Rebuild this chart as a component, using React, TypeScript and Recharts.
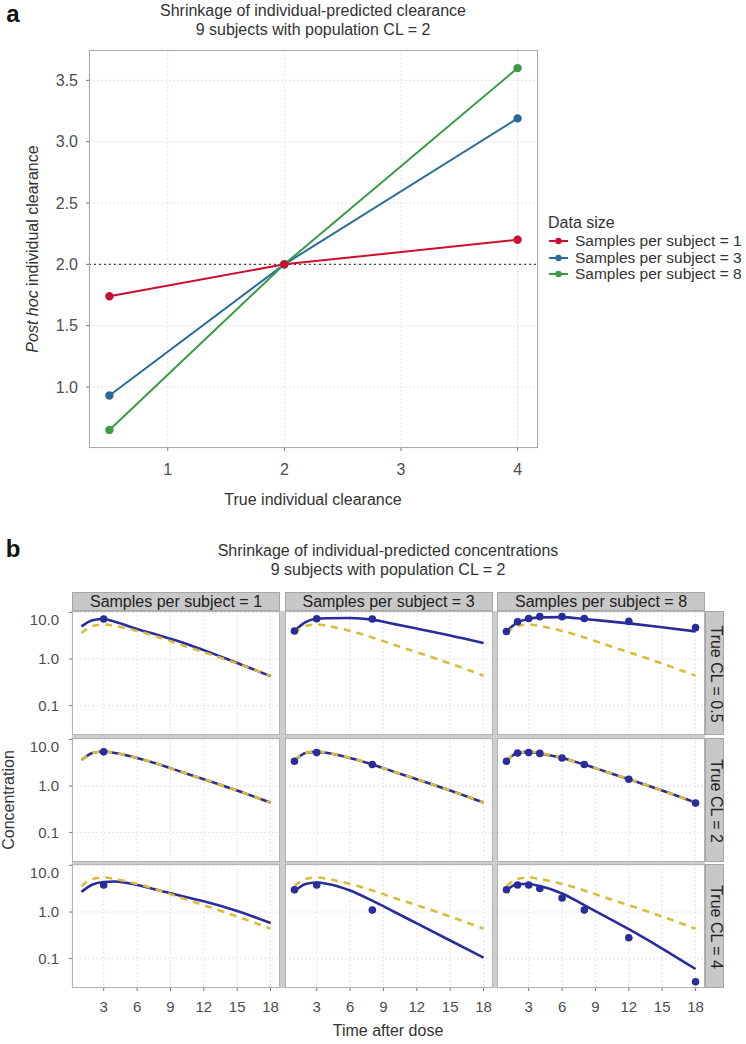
import React from 'react';
import {
  ComposedChart,
  Line,
  Scatter,
  XAxis,
  YAxis,
  CartesianGrid,
  ReferenceLine,
} from 'recharts';

const FONT = '"Liberation Sans", Arial, Helvetica, sans-serif';

// ---- panel a: post hoc clearance vs true clearance
const trueClearance = [0.5, 2, 4];
const postHocN1 = [1.74, 2.0, 2.2];
const postHocN3 = [0.93, 2.0, 3.19];
const postHocN8 = [0.65, 2.0, 3.6];
const clXTicks = [1, 2, 3, 4];
const clYTicks = [1.0, 1.5, 2.0, 2.5, 3.0, 3.5];
const dataSizeLabels = [
  'Samples per subject = 1',
  'Samples per subject = 3',
  'Samples per subject = 8',
];
const dataSizeColors = ['#c9102f', '#2a6b98', '#3a9a47'];

// ---- panel b: concentration profiles
const curveTimes = [1, 2, 3, 4, 6, 8, 10, 12, 15, 18];
const popPred = [3.6, 5.1, 5.5, 5.1, 4.0, 2.9, 2.0, 1.4, 0.8, 0.44];

const ipredCl05N1 = [5.0, 6.8, 7.2, 6.3, 4.4, 3.2, 2.3, 1.55, 0.82, 0.43];
const ipredCl05N3 = [4.0, 6.2, 7.3, 7.5, 7.6, 7.0, 5.6, 4.5, 3.2, 2.2];
const ipredCl05N8 = [3.9, 6.1, 7.3, 7.8, 7.9, 7.2, 6.5, 5.8, 4.8, 3.9];
const ipredCl2N1 = [3.6, 5.1, 5.5, 5.1, 4.0, 2.9, 2.0, 1.4, 0.8, 0.44];
const ipredCl2N3 = [3.5, 5.1, 5.4, 5.1, 4.0, 2.9, 2.0, 1.4, 0.8, 0.44];
const ipredCl2N8 = [3.5, 5.1, 5.4, 5.0, 4.0, 2.9, 2.0, 1.4, 0.8, 0.44];
const ipredCl4N1 = [2.7, 3.9, 4.4, 4.5, 3.8, 2.9, 2.2, 1.7, 1.05, 0.58];
const ipredCl4N3 = [2.8, 4.0, 4.3, 4.0, 2.9, 1.75, 1.0, 0.57, 0.245, 0.105];
const ipredCl4N8 = [2.9, 4.0, 4.0, 3.6, 2.5, 1.4, 0.78, 0.43, 0.165, 0.06];

const sampleTimesN1 = [3];
const sampleTimesN3 = [1, 3, 8];
const sampleTimesN8 = [1, 2, 3, 4, 6, 8, 12, 18];

const obsCl05N1 = [7.2];
const obsCl05N3 = [4.0, 7.3, 7.2];
const obsCl05N8 = [3.9, 6.3, 7.4, 8.1, 8.1, 7.4, 6.4, 4.7];
const obsCl2N1 = [5.4];
const obsCl2N3 = [3.4, 5.2, 2.9];
const obsCl2N8 = [3.4, 5.1, 5.2, 5.0, 4.0, 2.9, 1.4, 0.43];
const obsCl4N1 = [3.8];
const obsCl4N3 = [3.0, 3.8, 1.1];
const obsCl4N8 = [3.0, 3.8, 3.8, 3.2, 2.0, 1.1, 0.28, 0.032];

const timeTicks = [3, 6, 9, 12, 15, 18];
const concTicks = [0.1, 1, 10];
const colStrips = ['Samples per subject = 1', 'Samples per subject = 3', 'Samples per subject = 8'];
const rowStrips = ['True CL = 0.5', 'True CL = 2', 'True CL = 4'];

const facets = [
  { row: 0, col: 0, ipred: ipredCl05N1, times: sampleTimesN1, obs: obsCl05N1 },
  { row: 0, col: 1, ipred: ipredCl05N3, times: sampleTimesN3, obs: obsCl05N3 },
  { row: 0, col: 2, ipred: ipredCl05N8, times: sampleTimesN8, obs: obsCl05N8 },
  { row: 1, col: 0, ipred: ipredCl2N1, times: sampleTimesN1, obs: obsCl2N1 },
  { row: 1, col: 1, ipred: ipredCl2N3, times: sampleTimesN3, obs: obsCl2N3 },
  { row: 1, col: 2, ipred: ipredCl2N8, times: sampleTimesN8, obs: obsCl2N8 },
  { row: 2, col: 0, ipred: ipredCl4N1, times: sampleTimesN1, obs: obsCl4N1 },
  { row: 2, col: 1, ipred: ipredCl4N3, times: sampleTimesN3, obs: obsCl4N3 },
  { row: 2, col: 2, ipred: ipredCl4N8, times: sampleTimesN8, obs: obsCl4N8 },
];

const COL_LEFT = [72, 284.5, 497];
const COL_W = 208;
const ROW_TOP = [611, 737.5, 864];
const ROW_H = 124;
const NAVY = '#2a2c9c';
const GOLD = '#d8bc3a';

const tickStyle = (size: number) => ({ fontSize: size, fill: '#4d4d4d', fontFamily: FONT });

const Txt = ({ x, y, size = 16, rotate = 0, color = '#333', weight = 400, children }: any) => (
  <div
    style={{
      position: 'absolute',
      left: x,
      top: y,
      transform: `translate(-50%, -50%) rotate(${rotate}deg)`,
      whiteSpace: 'nowrap',
      fontSize: size,
      lineHeight: 1,
      color,
      fontWeight: weight,
      fontFamily: FONT,
    }}
  >
    {children}
  </div>
);

const Dot = (props: any) => <circle cx={props.cx} cy={props.cy} r={3.8} fill={NAVY} />;

const Facet = ({ f }: any) => {
  const showY = f.col === 0;
  const showX = f.row === 2;
  const yW = 72;
  const xH = 36;
  const left = COL_LEFT[f.col] - (showY ? yW : 0);
  const width = COL_W + (showY ? yW : 0);
  const height = ROW_H + (showX ? xH : 0);
  const ipredRows = curveTimes.map((t, i) => ({ t, c: f.ipred[i] }));
  const popRows = curveTimes.map((t, i) => ({ t, c: popPred[i] }));
  const obsRows = f.times.map((t: number, i: number) => ({ t, c: f.obs[i] }));
  return (
    <div style={{ position: 'absolute', left, top: ROW_TOP[f.row] }}>
      <ComposedChart width={width} height={height} margin={{ top: 0, right: 0, bottom: 0, left: 0 }}>
        <CartesianGrid fill='#fff' fillOpacity={1} stroke='#e2e2ea' strokeDasharray='2 2' />
        <XAxis
          type='number'
          dataKey='t'
          domain={[0.15, 18.85]}
          ticks={timeTicks}
          hide={!showX}
          height={xH}
          tickSize={3}
          tickMargin={10}
          axisLine={false}
          tickLine={{ stroke: '#777' }}
          tick={tickStyle(15)}
          allowDataOverflow
        />
        <YAxis
          type='number'
          dataKey='c'
          scale='log'
          domain={[0.0235, 10.7]}
          ticks={concTicks}
          hide={!showY}
          width={yW}
          tickSize={3}
          tickMargin={10}
          axisLine={false}
          tickLine={{ stroke: '#777' }}
          tick={tickStyle(15)}
          tickFormatter={(v: number) => v.toFixed(1)}
          allowDataOverflow
        />
        <Line
          data={ipredRows}
          dataKey='c'
          type='monotone'
          stroke={NAVY}
          strokeWidth={2.6}
          dot={false}
          isAnimationActive={false}
        />
        <Line
          data={popRows}
          dataKey='c'
          type='monotone'
          stroke={GOLD}
          strokeWidth={2.6}
          strokeDasharray='7 6'
          dot={false}
          isAnimationActive={false}
        />
        <Scatter data={obsRows} dataKey='c' fill={NAVY} shape={Dot} isAnimationActive={false} />
      </ComposedChart>
    </div>
  );
};

const App = () => {
  const clearanceRows = trueClearance.map((x, i) => ({
    x,
    n1: postHocN1[i],
    n3: postHocN3[i],
    n8: postHocN8[i],
  }));
  const keys = ['n1', 'n3', 'n8'];
  const drawOrder = [1, 2, 0];

  return (
    <div
      style={{
        position: 'absolute',
        left: 0,
        top: 0,
        width: 746,
        height: 1044,
        background: '#fff',
        overflow: 'hidden',
        fontFamily: FONT,
      }}
    >
      {/* panel a */}
      <Txt x={13} y={14} size={24} weight={700} color='#111'>a</Txt>
      <Txt x={313} y={11}>Shrinkage of individual-predicted clearance</Txt>
      <Txt x={313} y={30}>9 subjects with population CL = 2</Txt>

      <div style={{ position: 'absolute', left: 0, top: 0 }}>
        <ComposedChart
          width={746}
          height={540}
          data={clearanceRows}
          margin={{ top: 50, right: 208, bottom: 52, left: 0 }}
        >
          <CartesianGrid stroke='#e2e2ea' strokeDasharray='2 2' />
          <XAxis
            type='number'
            dataKey='x'
            domain={[0.325, 4.175]}
            ticks={clXTicks}
            height={40}
            tickSize={3}
            tickMargin={13}
            axisLine={false}
            tickLine={{ stroke: '#777' }}
            tick={tickStyle(16)}
            allowDataOverflow
          />
          <YAxis
            type='number'
            domain={[0.5025, 3.7475]}
            ticks={clYTicks}
            width={89}
            tickSize={3}
            tickMargin={8}
            axisLine={false}
            tickLine={{ stroke: '#777' }}
            tick={tickStyle(16)}
            tickFormatter={(v: number) => v.toFixed(1)}
            allowDataOverflow
          />
          <ReferenceLine y={2} stroke='#444' strokeWidth={1.3} strokeDasharray='2 3' />
          {drawOrder.map((i) => (
            <Line
              key={keys[i]}
              dataKey={keys[i]}
              type='linear'
              stroke={dataSizeColors[i]}
              strokeWidth={2}
              dot={{ r: 3.2, fill: dataSizeColors[i], stroke: dataSizeColors[i] }}
              isAnimationActive={false}
            />
          ))}
        </ComposedChart>
      </div>
      <div
        style={{
          position: 'absolute',
          left: 89,
          top: 50,
          width: 449,
          height: 398,
          border: '1.5px solid #a9a9a9',
          boxSizing: 'border-box',
          pointerEvents: 'none',
        }}
      />
      <Txt x={33} y={249} rotate={-90}>
        <i>Post hoc</i> individual clearance
      </Txt>
      <Txt x={313} y={500}>True individual clearance</Txt>

      {/* legend */}
      <div style={{ position: 'absolute', left: 548, top: 214, fontFamily: FONT, color: '#333' }}>
        <div style={{ fontSize: 16, lineHeight: '17px', marginBottom: 2 }}>Data size</div>
        {dataSizeLabels.map((label, i) => (
          <div key={label} style={{ display: 'flex', alignItems: 'center', height: 16.5 }}>
            <svg width={22} height={12} style={{ marginRight: 5 }}>
              <line x1={1} y1={6} x2={20} y2={6} stroke={dataSizeColors[i]} strokeWidth={2} />
              <circle cx={10.5} cy={6} r={3.2} fill={dataSizeColors[i]} />
            </svg>
            <span style={{ fontSize: 15.5, whiteSpace: 'nowrap' }}>{label}</span>
          </div>
        ))}
      </div>

      {/* panel b */}
      <Txt x={13} y={549} size={24} weight={700} color='#111'>b</Txt>
      <Txt x={388} y={551}>Shrinkage of individual-predicted concentrations</Txt>
      <Txt x={388} y={570}>9 subjects with population CL = 2</Txt>

      <div
        style={{
          position: 'absolute',
          left: COL_LEFT[0],
          top: ROW_TOP[0],
          width: COL_LEFT[2] + COL_W - COL_LEFT[0],
          height: ROW_TOP[2] + ROW_H - ROW_TOP[0],
          background: '#cdcdcd',
        }}
      />
      {facets.map((f) => (
        <Facet key={`${f.row}-${f.col}`} f={f} />
      ))}
      {facets.map((f) => (
        <div
          key={`b-${f.row}-${f.col}`}
          style={{
            position: 'absolute',
            left: COL_LEFT[f.col],
            top: ROW_TOP[f.row],
            width: COL_W,
            height: ROW_H,
            border: '1.2px solid #b3b3b3',
            boxSizing: 'border-box',
            pointerEvents: 'none',
          }}
        />
      ))}
      {colStrips.map((label, c) => (
        <div
          key={label}
          style={{
            position: 'absolute',
            left: COL_LEFT[c],
            top: 592,
            width: COL_W,
            height: 19,
            background: '#c8c8c8',
            border: '1px solid #a6a6a6',
            boxSizing: 'border-box',
            display: 'flex',
            alignItems: 'center',
            justifyContent: 'center',
            fontSize: 16,
            color: '#222',
            whiteSpace: 'nowrap',
            overflow: 'hidden',
          }}
        >
          {label}
        </div>
      ))}
      {rowStrips.map((label, r) => (
        <div
          key={label}
          style={{
            position: 'absolute',
            left: 705,
            top: ROW_TOP[r],
            width: 19,
            height: ROW_H,
            background: '#c8c8c8',
            border: '1px solid #a6a6a6',
            boxSizing: 'border-box',
          }}
        >
          <Txt x={9.5} y={ROW_H / 2} rotate={90} color='#222'>
            {label}
          </Txt>
        </div>
      ))}
      <Txt x={9} y={800} rotate={-90}>Concentration</Txt>
      <Txt x={388} y={1031}>Time after dose</Txt>
    </div>
  );
};

export default App;
